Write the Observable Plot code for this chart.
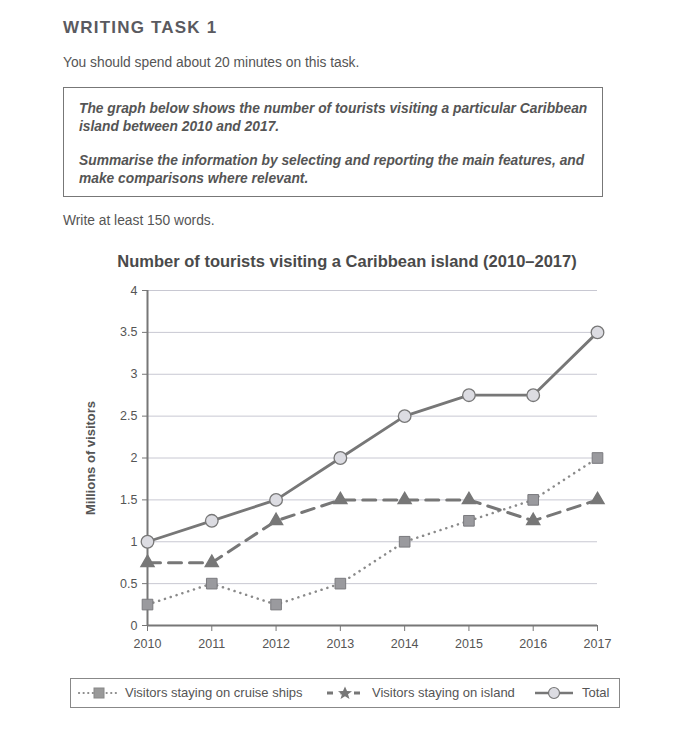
<!DOCTYPE html>
<html><head><meta charset="utf-8">
<script src="https://cdn.jsdelivr.net/npm/d3@7"></script>
<script src="https://cdn.jsdelivr.net/npm/@observablehq/plot@0.6"></script>
<style>
body{margin:0;background:#fff;font-family:"Liberation Sans",Arial,sans-serif;color:#555;width:700px;height:730px;position:relative;overflow:hidden}
.a{position:absolute;white-space:nowrap}
#h1{left:63px;top:18px;font-size:17px;font-weight:bold;letter-spacing:1.2px;color:#5a5a60}
#p1{left:63px;top:55px;font-size:13.8px;color:#555}
#box{left:63px;top:87px;width:538px;height:108px;border:1.5px solid #777;white-space:normal}
#box p{margin:0 0 0 15px;font-size:13.8px;font-weight:bold;font-style:italic;color:#555;line-height:18px;white-space:nowrap}
#p2{left:63px;top:213px;font-size:13.8px;color:#555}
#ttl{left:0;width:694px;text-align:center;top:252px;font-size:16.5px;font-weight:bold;color:#4a4a4a}
#chart{left:0;top:275px}
#legbox{left:70px;top:678px;width:548px;height:28px;border:1px solid #888}
.lt{font-size:13px;color:#555;top:685px}
.li{top:685px}
</style></head><body>
<div class="a" id="h1">WRITING TASK 1</div>
<div class="a" id="p1">You should spend about 20 minutes on this task.</div>
<div class="a" id="box">
<p style="margin-top:12px">The graph below shows the number of tourists visiting a particular Caribbean<br>island between 2010 and 2017.</p>
<p style="margin-top:16px">Summarise the information by selecting and reporting the main features, and<br>make comparisons where relevant.</p>
</div>
<div class="a" id="p2">Write at least 150 words.</div>
<div class="a" id="ttl">Number of tourists visiting a Caribbean island (2010–2017)</div>
<div class="a" id="chart"></div>
<div class="a" id="legbox"></div>
<svg class="a li" style="left:77px" width="44" height="16"><line x1="2" y1="8" x2="42" y2="8" stroke="#888" stroke-width="2.2" stroke-dasharray="0.1,4.5" stroke-linecap="round"/><rect x="17" y="3" width="10" height="10" fill="#999" stroke="#888"/></svg>
<div class="a lt" style="left:125px">Visitors staying on cruise ships</div>
<svg class="a li" style="left:326px" width="38" height="16"><line x1="1" y1="8" x2="37" y2="8" stroke="#777" stroke-width="3" stroke-dasharray="6,7.5"/><path d="M19,1.5 L21,6 L26,6.2 L22,9.3 L23.5,14 L19,11.2 L14.5,14 L16,9.3 L12,6.2 L17,6 Z" fill="#777"/></svg>
<div class="a lt" style="left:372px">Visitors staying on island</div>
<svg class="a li" style="left:534px" width="40" height="16"><line x1="1" y1="8" x2="39" y2="8" stroke="#777" stroke-width="2.5"/><circle cx="20" cy="8" r="5.5" fill="#dcdce2" stroke="#777" stroke-width="1.2"/></svg>
<div class="a lt" style="left:582px">Total</div>
<script>
const years = [2010, 2011, 2012, 2013, 2014, 2015, 2016, 2017];
const cruise = [0.25, 0.5, 0.25, 0.5, 1, 1.25, 1.5, 2];
const island = [0.75, 0.75, 1.25, 1.5, 1.5, 1.5, 1.25, 1.5];
const total = [1, 1.25, 1.5, 2, 2.5, 2.75, 2.75, 3.5];
const yTicks = [0, 0.5, 1, 1.5, 2, 2.5, 3, 3.5, 4];

const dCruise = years.map((y, i) => ({year: y, v: cruise[i]}));
const dIsland = years.map((y, i) => ({year: y, v: island[i]}));
const dTotal = years.map((y, i) => ({year: y, v: total[i]}));

const chart = Plot.plot({
  width: 700, height: 380,
  marginLeft: 147, marginRight: 103, marginTop: 15, marginBottom: 30,
  style: {fontFamily: '"Liberation Sans", Arial, sans-serif', fontSize: "12px", color: "#555", background: "transparent"},
  x: {domain: [2010, 2017], ticks: years, tickFormat: d => String(d), label: null},
  y: {domain: [0, 4], ticks: yTicks, tickFormat: d => String(d), label: null},
  marks: [
    Plot.ruleY(yTicks.filter(t => t > 0), {stroke: "#c8c8d2", strokeWidth: 1}),
    Plot.axisX({ticks: years, tickFormat: d => String(d), tickSize: 6, tickPadding: 8, stroke: "#777", fill: "#555", fontSize: 12.5}),
    Plot.axisY({ticks: yTicks, tickFormat: d => String(d), tickSize: 5, tickPadding: 5, stroke: "#777", fill: "#555", fontSize: 12.5}),
    Plot.ruleX([2010], {stroke: "#777", strokeWidth: 2}),
    Plot.ruleY([0], {stroke: "#777", strokeWidth: 2}),
    Plot.line(dCruise, {x: "year", y: "v", stroke: "#8a8a8a", strokeWidth: 2.5, strokeDasharray: "0.1,6", strokeLinecap: "round"}),
    Plot.line(dIsland, {x: "year", y: "v", stroke: "#777", strokeWidth: 3, strokeDasharray: "13,8"}),
    Plot.line(dTotal, {x: "year", y: "v", stroke: "#777", strokeWidth: 2.8}),
    Plot.dot(dCruise, {x: "year", y: "v", symbol: "square", r: 6, fill: "#9a9a9e", stroke: "#7a7a7e", strokeWidth: 1}),
    Plot.dot(dIsland, {x: "year", y: "v", symbol: "triangle", r: 4.8, fill: "#777", stroke: "#777"}),
    Plot.dot(dTotal, {x: "year", y: "v", symbol: "circle", r: 6.3, fill: "#dcdce2", stroke: "#777", strokeWidth: 1.3})
  ]
});
document.getElementById("chart").appendChild(chart);

const yl = document.createElement("div");
yl.className = "a";
yl.textContent = "Millions of visitors";
yl.style.cssText = "left:90px;top:458px;transform:translate(-50%,-50%) rotate(-90deg);font-size:13px;font-weight:bold;color:#555";
document.body.appendChild(yl);
</script>
</body></html>
